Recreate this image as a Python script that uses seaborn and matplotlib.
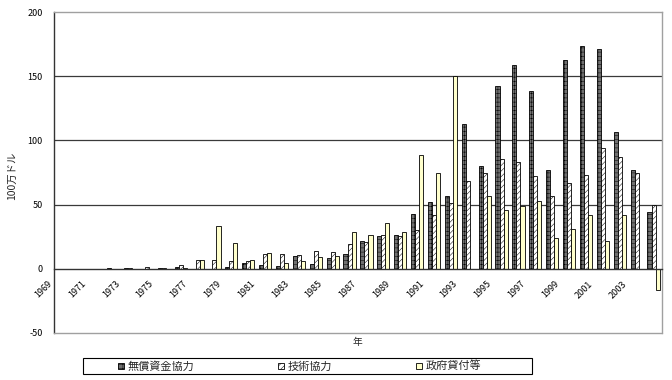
import numpy as np
import pandas as pd
import matplotlib
matplotlib.use("Agg")
import matplotlib.pyplot as plt
from matplotlib.patches import Patch, Rectangle
import seaborn as sns

years = list(range(1969, 2005))
series_names = ["無償資金協力", "技術協力", "政府貸付等"]

grant = [0, 0, 0, 0.5, 0.8, 0, 0.8, 1.3, 0, 0,
         1.3, 4.2, 3, 2, 10.3, 4, 8.2, 11.5, 21.5, 25.8,
         26, 43, 52, 56.5, 112.5, 80, 142.5, 159, 138.5, 77.3,
         163, 173.7, 170.8, 106.3, 76.6, 44]
tech = [0, 0, 0, 0, 0.7, 1.5, 0.8, 3, 7, 7,
        5.7, 6, 11.3, 11.6, 11, 13.5, 12.8, 19.2, 21, 26.6,
        25.5, 30.5, 42, 51.5, 68, 74.7, 85.7, 82.8, 72, 57,
        67, 73.2, 94.3, 87, 74.7, 49.7]
loan = [0, 0, 0, 0, 0, 0, 0, 0.5, 7, 33,
        19.8, 7, 12, 4.5, 6.3, 9, 10.2, 28.5, 26, 35.4,
        29, 89, 75, 150, 0, 56.5, 45.8, 49, 52.6, 23.7,
        31, 42, 21.9, 42, -0.5, -16.5]

y_ticks = [-50, 0, 50, 100, 150, 200]
grid_levels = [50, 100, 150]
colors = ["#707070", "#ffffff", "#ffffcc"]
hatches = ["++++", "//////", ""]

df = pd.DataFrame({
    "year": [str(y) for y in years] * 3,
    "value": grant + tech + loan,
    "series": sum([[s] * len(years) for s in series_names], []),
})

sns.set_style("white")
plt.rcParams["font.family"] = ["Noto Sans CJK JP", "DejaVu Sans"]
plt.rcParams["hatch.linewidth"] = 0.35

W, H = 672, 380
fig = plt.figure(figsize=(W / 100, H / 100), dpi=100)
ax = fig.add_axes([54 / W, 47 / H, 608 / W, 321 / H])

sns.barplot(data=df, x="year", y="value", hue="series", hue_order=series_names,
            palette=colors, saturation=1, width=0.72, edgecolor="black",
            linewidth=0.6, legend=False, ax=ax, errorbar=None)

for cont, h in zip(ax.containers, hatches):
    for p in cont.patches:
        p.set_hatch(h)
        p.set_zorder(2)

# spines first (set_position resets tick properties)
ax.spines["bottom"].set_position(("data", 0))
ax.spines["bottom"].set_color("#333333")
ax.spines["left"].set_color("#333333")
ax.spines["top"].set_color("#a0a0a0")
ax.spines["right"].set_color("#a0a0a0")
for s in ax.spines.values():
    s.set_linewidth(1.0)

ax.set_ylim(-50, 200)
ax.set_xlim(-0.5, len(years) - 0.5)
ax.set_yticks(y_ticks)
ax.set_yticklabels([str(v) for v in y_ticks], fontsize=6.5)
for g in grid_levels:
    ax.axhline(g, color="#3a3a3a", lw=0.9, zorder=0.5)
ax.axhline(-50, color="#a0a0a0", lw=1.0, clip_on=False, zorder=3)

bounds = np.arange(-0.5, len(years), 1.0)
xlabels = []
for i, b in enumerate(bounds):
    if i < len(years) and i % 2 == 0:
        xlabels.append(str(years[i]))
    else:
        xlabels.append("")
ax.set_xticks(bounds)
ax.set_xticklabels(xlabels, fontsize=6.5)

ax.tick_params(axis="y", length=3, direction="out", pad=5, colors="#333333", labelcolor="black")
ax.tick_params(axis="x", length=3, direction="inout", pad=6, colors="#333333", labelcolor="black")
for t in ax.get_xticklabels():
    t.set_rotation(45)
    t.set_ha("right")
    t.set_va("top")
ax.set_xlabel("")
ax.set_ylabel("")

fig.text(12 / W, 1 - 176 / H, "100万ドル", rotation=90, ha="center", va="center", fontsize=7.5)
fig.text(357 / W, 1 - 342 / H, "年", ha="center", va="center", fontsize=7)

handles = [Patch(facecolor=c, edgecolor="black", hatch=h, lw=0.6, label=n)
           for c, h, n in zip(colors, hatches, series_names)]
fig.legend(handles=handles, loc="center left", bbox_to_anchor=(118 / W, 1 - 366 / H),
           bbox_transform=fig.transFigure, frameon=False, ncol=3, fontsize=8,
           borderaxespad=0, borderpad=0, handlelength=0.55, handleheight=0.45,
           handletextpad=0.3, columnspacing=7.55)
fig.add_artist(Rectangle((83 / W, 1 - 374 / H), (532 - 83) / W, 16 / H,
                         transform=fig.transFigure, fill=False, edgecolor="black", lw=0.8))

fig.savefig("out.png", dpi=100)
